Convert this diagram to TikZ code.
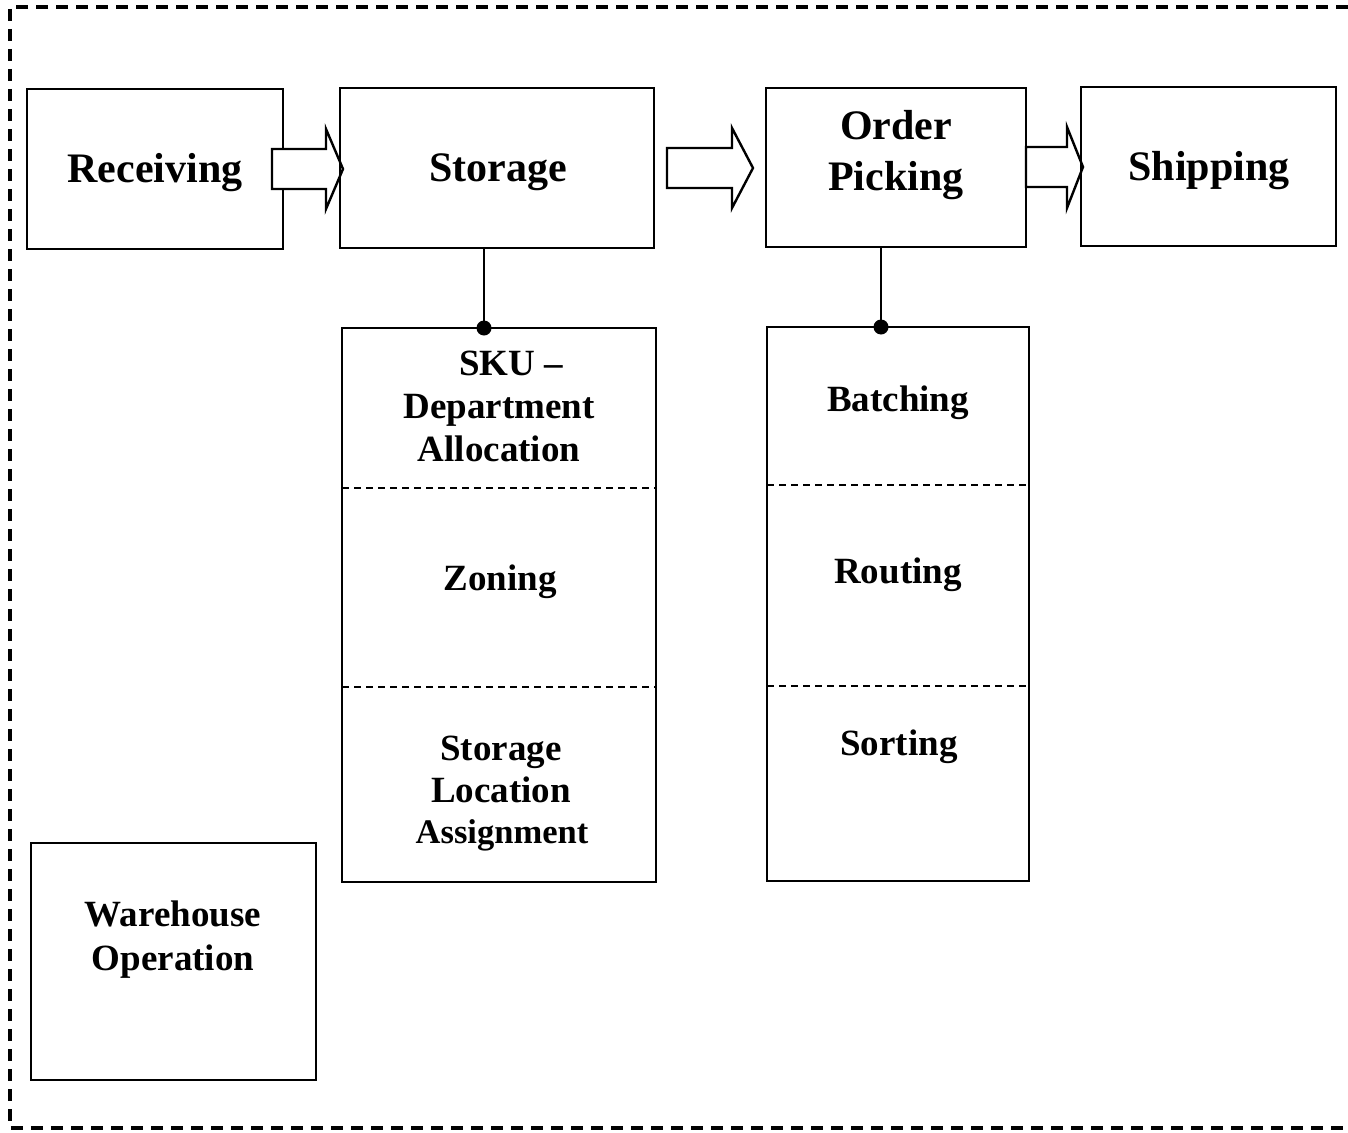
\documentclass[tikz,border=0pt]{standalone}
\usepackage{fontspec}
\setmainfont{Liberation Serif}
\begin{document}
\tikzset{
 box/.style={draw, line width=2.4pt, inner sep=0pt, outer sep=0pt},
 big/.style={font=\fontsize{42}{50}\selectfont\bfseries, anchor=base, inner sep=0pt},
 mid/.style={font=\fontsize{37}{43}\selectfont\bfseries, anchor=base, inner sep=0pt},
 small/.style={font=\fontsize{34.5}{43}\selectfont\bfseries, anchor=base, inner sep=0pt},
 blockarrow/.style={draw, fill=white, line width=2.4pt, line join=miter},
 divider/.style={dash pattern=on 7pt off 5pt, line width=1.8pt},
 frame/.style={dash pattern=on 12pt off 8pt, line width=3.5pt},
 link/.style={line width=2.4pt},
 dot/.style={circle, fill=black, inner sep=0pt, minimum size=15pt},
}
\begin{tikzpicture}[x=1pt, y=-1pt]
\useasboundingbox (0,0) rectangle (1348,1132);
% outer dashed frame (open on the right)
\coordinate (ftr) at (1348,7);
\coordinate (ftl) at (10,7);
\coordinate (fbl) at (10,1128);
\coordinate (fbr) at (1348,1128);
\draw[frame] (ftr) -- (ftl) -- (fbl) -- (fbr);

% top row
\node[box, minimum width=256pt, minimum height=160pt] (receiving) at (155,169) {};
\draw[blockarrow] (272,149) -- (326,149) -- (326,129) -- (343,169) -- (326,209) -- (326,189) -- (272,189) -- cycle;
\node[box, minimum width=314pt, minimum height=160pt] (storage) at (497,168) {};
\draw[blockarrow] (667,148) -- (732,148) -- (732,128) -- (753,168) -- (732,208) -- (732,188) -- (667,188) -- cycle;
\draw[blockarrow] (1026,147) -- (1067,147) -- (1067,127) -- (1083,167) -- (1067,208) -- (1067,187) -- (1026,187) -- cycle;
\node[box, minimum width=260pt, minimum height=159pt] (picking) at (896,167.5) {};
\node[box, minimum width=255pt, minimum height=159pt] (shipping) at (1208.5,166.5) {};

\node[big] (tReceiving) at (155,182) {Receiving};
\node[big] (tStorage) at (498,181) {Storage};
\node[big] (tOrder) at (896,139) {Order};
\node[big] (tPicking) at (896,190) {Picking};
\node[big] (tShipping) at (1209,180) {Shipping};

% storage column
\node[box, minimum width=314pt, minimum height=554pt] (colA) at (499,605) {};
\draw[divider] (colA.west |- 0,488) -- (colA.east |- 0,488);
\draw[divider] (colA.west |- 0,687) -- (colA.east |- 0,687);
\node[mid] (tSKU) at (511,375) {SKU –};
\node[mid] (tDept) at (499,418) {Department};
\node[mid] (tAlloc) at (499,461) {Allocation};
\node[mid] (tZoning) at (500,590) {Zoning};
\node[mid] (tSt) at (501,760) {Storage};
\node[mid] (tLoc) at (501,802) {Location};
\node[small] (tAssign) at (502,843) {Assignment};

% picking column
\node[box, minimum width=262pt, minimum height=554pt] (colB) at (898,604) {};
\draw[divider] (colB.west |- 0,485) -- (colB.east |- 0,485);
\draw[divider] (colB.west |- 0,686) -- (colB.east |- 0,686);
\node[mid] (tBatch) at (898,411) {Batching};
\node[mid] (tRout) at (898,583) {Routing};
\node[mid] (tSort) at (899,755) {Sorting};

% connectors
\draw[link] (storage.south -| 484,0) -- (colA.north -| 484,0);
\node[dot] (dotA) at (colA.north -| 484,0) {};
\draw[link] (picking.south -| 881,0) -- (colB.north -| 881,0);
\node[dot] (dotB) at (colB.north -| 881,0) {};

% warehouse operation
\node[box, minimum width=285pt, minimum height=237pt] (wo) at (173.5,961.5) {};
\node[mid] (tWare) at (173,926) {Warehouse};
\node[mid] (tOper) at (173,970) {Operation};
\end{tikzpicture}
\end{document}
